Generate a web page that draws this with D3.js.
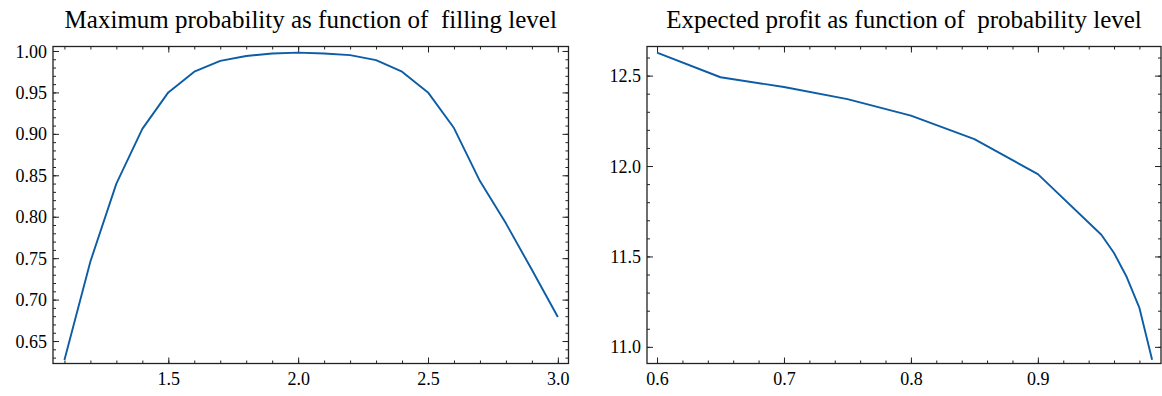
<!DOCTYPE html>
<html>
<head>
<meta charset="utf-8">
<script src="https://cdn.jsdelivr.net/npm/d3@7"></script>
<style>
  html, body { margin: 0; padding: 0; background: #fff; }
  svg { display: block; }
  .frame { fill: none; stroke: #222; stroke-width: 1.3; }
  .series { fill: none; stroke: #0C5DA5; stroke-width: 1.9; stroke-linejoin: round; }
  .tick line { stroke: #222; stroke-width: 1; }
</style>
</head>
<body>
<script>
// left panel: probability vs filling level
const fillLevel = [1.1, 1.2, 1.3, 1.4, 1.5, 1.6, 1.7, 1.8, 1.9, 2.0,
                   2.1, 2.2, 2.3, 2.4, 2.5, 2.6, 2.7, 2.8, 2.9, 3.0];
const maxProb = [0.627, 0.746, 0.840, 0.906, 0.950, 0.975, 0.988, 0.994, 0.997, 0.998,
                 0.997, 0.995, 0.989, 0.975, 0.950, 0.907, 0.843, 0.792, 0.736, 0.679];
const fillTicks = [1.5, 2.0, 2.5, 3.0];
const probTicks = [0.65, 0.70, 0.75, 0.80, 0.85, 0.90, 0.95, 1.00];

// right panel: expected profit vs probability level
const probLevel = [0.60, 0.65, 0.70, 0.75, 0.80, 0.85, 0.90, 0.95, 0.96, 0.97, 0.98, 0.99];
const expProfit = [12.627, 12.491, 12.437, 12.370, 12.279, 12.149, 11.955, 11.620, 11.519, 11.386, 11.215, 10.929];
const levelTicks = [0.6, 0.7, 0.8, 0.9];
const profitTicks = [11.0, 11.5, 12.0, 12.5];

const titles = ["Maximum probability as function of\u00a0 filling level",
                "Expected profit as function of\u00a0 probability level"];

const W = 1162, H = 396;
const serif = "'Liberation Serif', 'DejaVu Serif', serif";
const svg = d3.select("body").append("svg").attr("width", W).attr("height", H);

function panel(opt) {
  const x = d3.scaleLinear().domain(opt.xDomain).range([opt.left, opt.right]);
  const y = d3.scaleLinear().domain(opt.yDomain).range([opt.bottom, opt.top]);
  const g = svg.append("g");
  const w = opt.right - opt.left, h = opt.bottom - opt.top;

  const minorX = d3.range(Math.ceil(opt.xDomain[0] / opt.xMinor - 1e-6), Math.floor(opt.xDomain[1] / opt.xMinor + 1e-6) + 1)
    .map(i => +(i * opt.xMinor).toFixed(4));
  const minorY = d3.range(Math.ceil(opt.yDomain[0] / opt.yMinor - 1e-6), Math.floor(opt.yDomain[1] / opt.yMinor + 1e-6) + 1)
    .map(i => +(i * opt.yMinor).toFixed(4));

  // inward ticks on all four sides
  const addAxis = (gen, tx, ty, ticks, size, fmt) => {
    const a = g.append("g").attr("transform", `translate(${tx},${ty})`)
      .call(gen.tickValues(ticks).tickSizeInner(-size).tickSizeOuter(0)
        .tickPadding(fmt ? 6 : 0).tickFormat(fmt || ""));
    a.select(".domain").remove();
    a.selectAll(".tick text")
      .attr("font-family", serif).attr("font-size", 18).attr("fill", "#000");
    return a;
  };

  addAxis(d3.axisBottom(x), 0, opt.bottom, minorX, 3);
  addAxis(d3.axisTop(x), 0, opt.top, minorX, 3);
  addAxis(d3.axisLeft(y), opt.left, 0, minorY, 3);
  addAxis(d3.axisRight(y), opt.right, 0, minorY, 3);

  const xa = addAxis(d3.axisBottom(x), 0, opt.bottom, opt.xTicks, 6, d3.format(".1f"));
  xa.selectAll(".tick text").attr("dy", "0.85em");
  addAxis(d3.axisTop(x), 0, opt.top, opt.xTicks, 6);
  const ya = addAxis(d3.axisLeft(y), opt.left, 0, opt.yTicks, 6, d3.format(opt.yFmt));
  ya.selectAll(".tick text").attr("dy", "0.34em");
  addAxis(d3.axisRight(y), opt.right, 0, opt.yTicks, 6);

  const line = d3.line().x(d => x(d[0])).y(d => y(d[1]));
  g.append("path").attr("class", "series")
    .datum(d3.zip(opt.xs, opt.ys))
    .attr("d", line);

  g.append("rect").attr("class", "frame")
    .attr("x", opt.left).attr("y", opt.top).attr("width", w).attr("height", h);

  g.append("text")
    .attr("x", (opt.left + opt.right) / 2).attr("y", 28)
    .attr("text-anchor", "middle")
    .attr("font-family", serif).attr("font-size", 25).attr("fill", "#000")
    .text(opt.title);
}

panel({
  left: 53, right: 568.5, top: 46.5, bottom: 363.5,
  xDomain: [1.056, 3.041], yDomain: [0.6229, 1.0054],
  xTicks: fillTicks, yTicks: probTicks, xMinor: 0.1, yMinor: 0.01, yFmt: ".2f",
  xs: fillLevel, ys: maxProb, title: titles[0],
});

panel({
  left: 647, right: 1161, top: 46.5, bottom: 363.5,
  xDomain: [0.5921, 0.997], yDomain: [10.908, 12.661],
  xTicks: levelTicks, yTicks: profitTicks, xMinor: 0.02, yMinor: 0.1, yFmt: ".1f",
  xs: probLevel, ys: expProfit, title: titles[1],
});
</script>
</body>
</html>
